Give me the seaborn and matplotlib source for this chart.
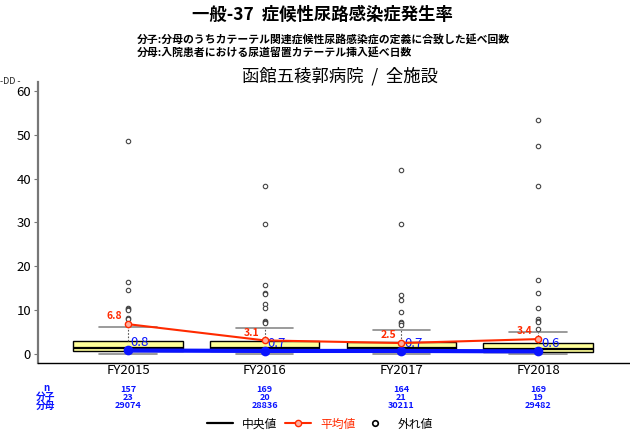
import seaborn as sns
import matplotlib.pyplot as plt
import matplotlib.transforms as mtransforms
from matplotlib.lines import Line2D
import pandas as pd

# data
years = ["FY2015", "FY2016", "FY2017", "FY2018"]
box_q1 = [0.76, 0.76, 1.07, 0.53]
box_med = [1.45, 1.45, 1.4, 1.2]
box_q3 = [3.05, 3.0, 2.7, 2.45]
whis_lo = [0.0, 0.0, 0.0, 0.0]
whis_hi = [6.2, 6.0, 5.4, 5.0]
out_2015 = [48.6, 16.4, 14.6, 10.4, 10.2, 10.0, 8.3, 7.9]
out_2016 = [38.3, 29.7, 15.7, 14.0, 13.6, 11.4, 10.6, 7.6, 7.2, 7.0]
out_2017 = [42.0, 29.7, 13.5, 12.2, 9.5, 7.4, 7.0, 6.6]
out_2018 = [53.4, 47.5, 38.4, 16.9, 13.9, 10.5, 8.0, 7.6, 7.25, 5.65]
means = [6.8, 3.1, 2.5, 3.4]
hosp = [0.8, 0.7, 0.7, 0.6]
n_vals = [157, 169, 164, 169]
num_vals = [23, 20, 21, 19]
den_vals = [29074, 28836, 30211, 29482]

sns.set_theme(style="white")
plt.rcParams['font.family'] = ['Noto Sans CJK JP', 'DejaVu Sans']

fig = plt.figure(figsize=(6.3, 4.36), dpi=100)
ax = fig.add_axes([38 / 630, 1 - 363 / 436, 1 - 38 / 630, (363 - 82) / 436])

outs = [out_2015, out_2016, out_2017, out_2018]
stats = []
for i in range(len(years)):
    stats.append(dict(q1=box_q1[i], med=box_med[i], q3=box_q3[i],
                      whislo=whis_lo[i], whishi=whis_hi[i], fliers=outs[i]))

ax.bxp(stats, positions=range(len(years)), widths=0.8, capwidths=0.42,
       patch_artist=True, manage_ticks=False,
       boxprops=dict(facecolor="#ffff99", edgecolor="black", linewidth=1),
       medianprops=dict(color="black", linewidth=1.6),
       whiskerprops=dict(color="#555555", linestyle=(0, (1.5, 1.5)), linewidth=0.8),
       capprops=dict(color="#8a8a8a", linewidth=1.2),
       flierprops=dict(marker="o", markersize=3.2, markerfacecolor="white",
                       markeredgecolor="#444444", markeredgewidth=0.8))

df = pd.DataFrame({"x": range(len(years)), "mean": means, "hosp": hosp})
sns.lineplot(data=df, x="x", y="hosp", ax=ax, color="#0a14ff", linewidth=3,
             marker="o", markersize=7, markeredgewidth=0, zorder=5)
sns.lineplot(data=df, x="x", y="mean", ax=ax, color="#ff2a00", linewidth=1.5,
             marker="o", markersize=4.5, markerfacecolor="#ffb0a0",
             markeredgecolor="#ff2a00", markeredgewidth=1, zorder=6)

for i in range(len(years)):
    ax.annotate(f"{means[i]:.1f}", (i, means[i]), xytext=(-4, 2),
                textcoords="offset points", ha="right", va="bottom",
                color="#ff2a00", fontsize=7.5, fontweight="bold")
    ax.annotate(f"{hosp[i]:.1f}", (i, hosp[i]), xytext=(2, 1),
                textcoords="offset points", ha="left", va="bottom",
                color="#0a14ff", fontsize=9.5)

ax.set_xlim(-0.658, 3.672)
ax.set_ylim(-2.05, 62.0)
ax.set_yticks([0, 10, 20, 30, 40, 50, 60])
ax.set_xticks(range(len(years)))
ax.set_xticklabels(years)
ax.set_xlabel("")
ax.set_ylabel("")
ax.tick_params(axis="y", left=True, length=3, width=0.8, color="#777777",
               labelsize=9.5, labelcolor="black", pad=2)
ax.tick_params(axis="x", bottom=False, length=0, labelsize=9.5,
               labelcolor="black", pad=1)
for s in ["top", "right"]:
    ax.spines[s].set_visible(False)
ax.spines["left"].set_color("#777777")
ax.spines["left"].set_linewidth(1.6)
ax.spines["bottom"].set_color("black")
ax.spines["bottom"].set_linewidth(1)

# titles
fig.text(322 / 630, 1 - 15 / 436, "一般-37  症候性尿路感染症発生率", ha="center", va="center",
         fontsize=12.5, fontweight="bold", color="black")
fig.text(137 / 630, 1 - 39 / 436, "分子:分母のうちカテーテル関連症候性尿路感染症の定義に合致した延べ回数",
         ha="left", va="center", fontsize=7.8, fontweight="bold", color="black")
fig.text(137 / 630, 1 - 52 / 436, "分母:入院患者における尿道留置カテーテル挿入延べ日数",
         ha="left", va="center", fontsize=7.8, fontweight="bold", color="black")
fig.text(340 / 630, 1 - 76 / 436, "函館五稜郭病院  /  全施設", ha="center", va="center",
         fontsize=12.5, color="black")
fig.text(0, 1 - 82 / 436, "-DD -", ha="left", va="center", fontsize=6.5)

# counts table under the axis
tr = mtransforms.blended_transform_factory(ax.transData, fig.transFigure)
for i in range(len(years)):
    for v, y in zip([n_vals[i], num_vals[i], den_vals[i]], [389, 397, 405.5]):
        ax.text(i, 1 - y / 436, str(v), transform=tr, ha="center", va="center",
                color="#0a14ff", fontsize=6.5, fontweight="bold")
for lab, y in zip(["n", "分子", "分母"], [388, 396.5, 405.5]):
    fig.text(46 / 630, 1 - y / 436, lab, ha="center", va="center",
             color="#0a14ff", fontsize=7, fontweight="bold")

handles = [
    Line2D([], [], color="black", linewidth=1.6),
    Line2D([], [], color="#ff2a00", linewidth=1.5, marker="o", markersize=4.5,
           markerfacecolor="#ffb0a0", markeredgecolor="#ff2a00"),
    Line2D([], [], color="black", linestyle="none", marker="o", markersize=4,
           markerfacecolor="white", markeredgewidth=1.2),
]
leg = fig.legend(handles, ["中央値", "平均値", "外れ値"], loc="center",
                 bbox_to_anchor=(320 / 630, 1 - 424 / 436), ncol=3, frameon=False,
                 fontsize=8.5, handlelength=2.2, columnspacing=0.6, handletextpad=0.8)
for t, c in zip(leg.get_texts(), ["black", "#ff2a00", "black"]):
    t.set_color(c)

fig.savefig("out.png", dpi=100)
